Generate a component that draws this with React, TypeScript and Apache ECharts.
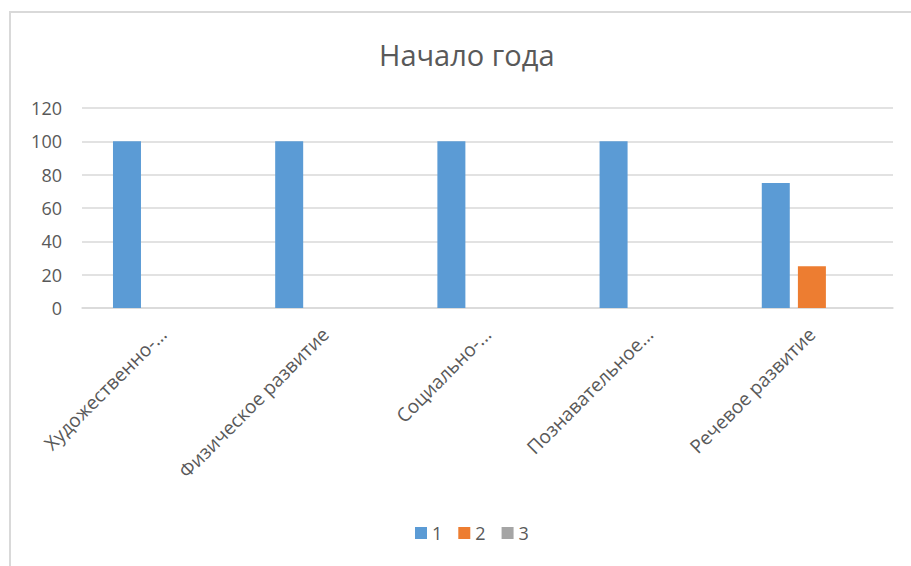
import React, { useEffect, useRef } from "react";
import * as echarts from "echarts";

const categories = [
  "Художественно-...",
  "Физическое развитие",
  "Социально-...",
  "Познавательное...",
  "Речевое развитие",
];
const series1 = [100, 100, 100, 100, 75];
const series2 = [0, 0, 0, 0, 25];
const series3 = [0, 0, 0, 0, 0];
const seriesNames = ["1", "2", "3"];
const colors = ["#5b9bd5", "#ed7d31", "#a5a5a5"];
const title = "Начало года";

const FONT = "'Open Sans', 'Noto Sans', sans-serif";
const TEXT = "#595959";

export default function App() {
  const ref = useRef<HTMLDivElement>(null);
  useEffect(() => {
    if (!ref.current) return;
    const chart = echarts.init(ref.current, undefined, { renderer: "svg" });
    const data = [series1, series2, series3];
    chart.setOption({
      animation: false,
      color: colors,
      textStyle: { fontFamily: FONT, color: TEXT },
      title: {
        text: title,
        left: 374,
        top: 35,
        textStyle: { fontFamily: FONT, fontSize: 29, fontWeight: "normal", color: TEXT },
      },
      graphic: [
        {
          type: "rect",
          shape: { x: 10, y: 12, width: 1000, height: 1000 },
          style: { fill: "none", stroke: "#d9d9d9", lineWidth: 2 },
          silent: true,
        },
      ],
      legend: {
        data: seriesNames,
        bottom: 19,
        left: 410,
        itemWidth: 12,
        itemHeight: 12,
        itemGap: 16,
        icon: "rect",
        textStyle: { fontFamily: FONT, fontSize: 18, color: TEXT },
      },
      grid: { left: 82, right: 18, top: 108, bottom: 258, containLabel: false },
      xAxis: {
        type: "category",
        data: categories,
        axisLine: { lineStyle: { color: "#d9d9d9", width: 1.5 } },
        axisTick: { show: false },
        axisLabel: {
          rotate: 45,
          interval: 0,
          margin: 23,
          fontFamily: FONT,
          fontSize: 19,
          color: TEXT,
        },
      },
      yAxis: {
        type: "value",
        min: 0,
        max: 120,
        interval: 20,
        axisLine: { show: false },
        axisTick: { show: false },
        splitLine: { lineStyle: { color: "#d9d9d9", width: 1.5 } },
        axisLabel: { margin: 20, fontFamily: FONT, fontSize: 18, color: TEXT },
      },
      series: seriesNames.map((name, i) => ({
        name,
        type: "bar",
        data: data[i],
        barWidth: 28,
        barGap: "29%",
        itemStyle: { color: colors[i] },
      })),
    });
    return () => chart.dispose();
  }, []);
  return (
    <div
      ref={ref}
      style={{ position: "absolute", left: 0, top: 0, width: 911, height: 566, background: "#fff" }}
    />
  );
}
